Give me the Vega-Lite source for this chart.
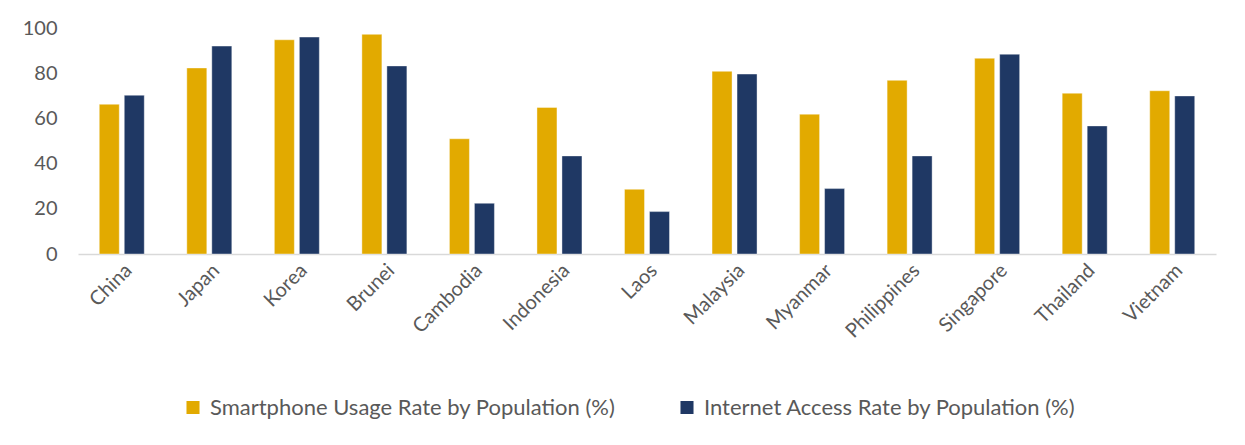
{
  "$schema": "https://vega.github.io/schema/vega-lite/v6.json",
  "width": 1138,
  "height": 225.5,
  "autosize": {"type": "none"},
  "padding": {"left": 78, "top": 28.5, "right": 29, "bottom": 191},
  "background": "#ffffff",
  "config": {
    "view": {"stroke": null},
    "font": "Lato",
    "axis": {"labelFont": "Lato", "labelFontSize": 20, "labelColor": "#595959", "grid": false, "ticks": false},
    "legend": {"labelFont": "Lato", "labelFontSize": 22, "labelColor": "#595959", "labelLimit": 0}
  },
  "data": {
    "values": [
      {"country": "China", "series": "Smartphone Usage Rate by Population (%)", "value": 66.4},
      {"country": "China", "series": "Internet Access Rate by Population (%)", "value": 70.4},
      {"country": "Japan", "series": "Smartphone Usage Rate by Population (%)", "value": 82.5},
      {"country": "Japan", "series": "Internet Access Rate by Population (%)", "value": 92.2},
      {"country": "Korea", "series": "Smartphone Usage Rate by Population (%)", "value": 95.0},
      {"country": "Korea", "series": "Internet Access Rate by Population (%)", "value": 96.2},
      {"country": "Brunei", "series": "Smartphone Usage Rate by Population (%)", "value": 97.4},
      {"country": "Brunei", "series": "Internet Access Rate by Population (%)", "value": 83.4},
      {"country": "Cambodia", "series": "Smartphone Usage Rate by Population (%)", "value": 51.1},
      {"country": "Cambodia", "series": "Internet Access Rate by Population (%)", "value": 22.5},
      {"country": "Indonesia", "series": "Smartphone Usage Rate by Population (%)", "value": 65.0},
      {"country": "Indonesia", "series": "Internet Access Rate by Population (%)", "value": 43.5},
      {"country": "Laos", "series": "Smartphone Usage Rate by Population (%)", "value": 28.7},
      {"country": "Laos", "series": "Internet Access Rate by Population (%)", "value": 18.8},
      {"country": "Malaysia", "series": "Smartphone Usage Rate by Population (%)", "value": 81.0},
      {"country": "Malaysia", "series": "Internet Access Rate by Population (%)", "value": 79.8},
      {"country": "Myanmar", "series": "Smartphone Usage Rate by Population (%)", "value": 62.0},
      {"country": "Myanmar", "series": "Internet Access Rate by Population (%)", "value": 29.0},
      {"country": "Philippines", "series": "Smartphone Usage Rate by Population (%)", "value": 77.0},
      {"country": "Philippines", "series": "Internet Access Rate by Population (%)", "value": 43.5},
      {"country": "Singapore", "series": "Smartphone Usage Rate by Population (%)", "value": 86.8},
      {"country": "Singapore", "series": "Internet Access Rate by Population (%)", "value": 88.6},
      {"country": "Thailand", "series": "Smartphone Usage Rate by Population (%)", "value": 71.3},
      {"country": "Thailand", "series": "Internet Access Rate by Population (%)", "value": 56.8},
      {"country": "Vietnam", "series": "Smartphone Usage Rate by Population (%)", "value": 72.4},
      {"country": "Vietnam", "series": "Internet Access Rate by Population (%)", "value": 70.1}
    ]
  },
  "mark": {"type": "bar", "stroke": "#ffffff", "strokeWidth": 1, "strokeOpacity": 0.4},
  "encoding": {
    "x": {
      "field": "country",
      "type": "nominal",
      "sort": null,
      "title": null,
      "scale": {"paddingInner": 0.486, "paddingOuter": 0.243},
      "axis": {"labelAngle": -45, "domainColor": "#d9d9d9", "domainWidth": 1.5, "labelPadding": 6, "labelFontSize": 20}
    },
    "xOffset": {
      "field": "series",
      "type": "nominal",
      "sort": ["Smartphone Usage Rate by Population (%)", "Internet Access Rate by Population (%)"],
      "scale": {"paddingInner": 0.2, "paddingOuter": 0}
    },
    "y": {
      "field": "value",
      "type": "quantitative",
      "title": null,
      "scale": {"domain": [0, 100], "nice": false},
      "axis": {"values": [0, 20, 40, 60, 80, 100], "domain": false, "labelPadding": 21}
    },
    "color": {
      "field": "series",
      "type": "nominal",
      "sort": ["Smartphone Usage Rate by Population (%)", "Internet Access Rate by Population (%)"],
      "scale": {"range": ["#E2AA00", "#1F3864"]},
      "legend": {
        "title": null,
        "orient": "none",
        "direction": "horizontal",
        "legendX": 104,
        "legendY": 368,
        "symbolType": "square",
        "symbolSize": 170,
        "symbolStrokeWidth": 0,
        "labelOffset": 6,
        "columnPadding": 60
      }
    }
  }
}
